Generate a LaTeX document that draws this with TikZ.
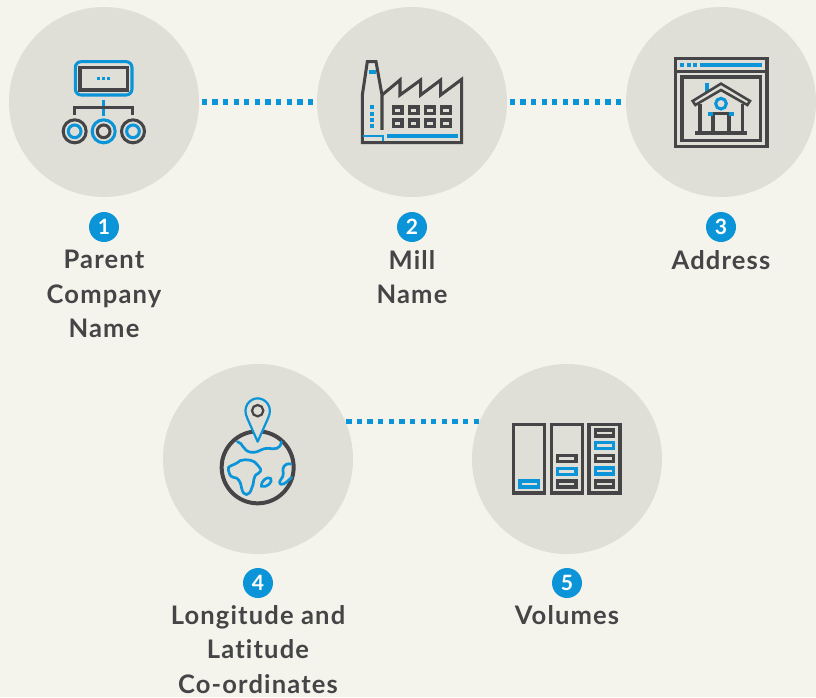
\documentclass[tikz,border=0pt]{standalone}
\usepackage{fontspec}
\setmainfont{Lato}
\newfontfamily\captionfont[LetterSpace=4.5,Ligatures=NoCommon]{Lato}
\definecolor{paper}{HTML}{F5F4EC}
\definecolor{disc}{HTML}{DFDED7}
\definecolor{inkblue}{HTML}{0B95D8}
\definecolor{inkdark}{HTML}{454547}
\tikzset{
  stationdisc/.style={circle,fill=disc,minimum size=5.7cm,inner sep=0pt},
  badge/.style={circle,fill=inkblue,text=white,minimum size=0.9cm,inner sep=0pt,font=\bfseries\fontsize{18}{18}\selectfont},
  caption/.style={text=inkdark,align=center,font=\captionfont\bfseries\fontsize{21.8}{29.4}\selectfont},
  dotlink/.style={inkblue,line width=4.5pt,dash pattern=on 4.53pt off 4.53pt},
  darkline/.style={inkdark,line width=2.6pt,line join=miter},
  blueline/.style={inkblue,line width=2.6pt,line join=miter},
  thinblue/.style={inkblue,line width=2.3pt,line join=round,line cap=round},
}
\begin{document}
\begin{tikzpicture}[x=0.03cm,y=-0.03cm]
    \useasboundingbox[fill=paper] (0,0) rectangle (816,697);

    \node[stationdisc] (parent) at (104,102) {};
    \node[stationdisc] (mill) at (412,102) {};
    \node[stationdisc] (address) at (721,102) {};
    \node[stationdisc] (longitude) at (258,459) {};
    \node[stationdisc] (volumes) at (567,459) {};

    \draw[dotlink,shorten >=2.1pt,shorten <=2.1pt] (parent) -- (mill);
    \draw[dotlink,shorten >=2.1pt,shorten <=2.1pt] (mill) -- (address);
    \draw[dotlink,shorten >=-6.4pt,shorten <=0.5pt] (longitude.23.6) -- (longitude.23.6 -| volumes.west);

    \node[badge] (badgeparent) at (104,227) {1};
    \node[badge] (badgemill) at (412,227) {2};
    \node[badge] (badgeaddress) at (721,227) {3};
    \node[badge] (badgelongitude) at (258,583) {4};
    \node[badge] (badgevolumes) at (567,583) {5};

    \node[caption,anchor=north] (captionparent) at (104,246) {Parent\\Company\\Name};
    \node[caption,anchor=north] (captionmill) at (412,246) {Mill\\Name};
    \node[caption,anchor=north] (captionaddress) at (721,246) {Address};
    \node[caption,anchor=north] (captionlongitude) at (258,601) {Longitude and\\Latitude\\Co-ordinates};
    \node[caption,anchor=north] (captionvolumes) at (567,601) {Volumes};

    % company tree
    \begin{scope}[shift={(40,40)},scale=0.3333]
    \draw[blueline,rounded corners=5pt] (106,65) rectangle (276,165);
    \draw[darkline] (120,82) rectangle (262,150);
    \fill[inkblue] (171,110) rectangle (181,120);
    \fill[inkblue] (186,110) rectangle (196,120);
    \fill[inkblue] (201,110) rectangle (211,120);
    \draw[blueline,line width=3pt] (190,180) -- (190,228);
    \draw[darkline] (103,226) -- (103,203) -- (278,203) -- (278,226);
    \draw[darkline] (104,274) circle (34.5);
    \draw[blueline] (104,274) circle (19);
    \draw[blueline] (191,274) circle (34.5);
    \draw[darkline] (191,274) circle (19);
    \draw[darkline] (279,274) circle (34.5);
    \draw[blueline] (279,274) circle (19);
    \end{scope}

    % factory
    \begin{scope}[shift={(350,50)},scale=0.3333]
    \draw[darkline] (96,240) -- (96,135) -- (78,35) -- (52,35) -- (37,135) -- (37,278) -- (335,278) -- (335,88) -- (272,135) -- (272,90) -- (212,135) -- (212,90) -- (150,135) -- (150,90) -- (96,135);
    \draw[blueline,line width=3.4pt] (56,66) -- (77,66);
    \fill[inkblue] (60,165) rectangle (72,177);
    \fill[inkblue] (60,185) rectangle (72,197);
    \fill[inkblue] (60,204) rectangle (72,216);
    \fill[inkblue] (60,222) rectangle (72,234);
    \draw[blueline,line width=3.4pt] (111,258) -- (325,258);
    \draw[blueline,line width=1.8pt] (40,257) -- (98,257) -- (98,274);
    \draw[darkline] (130,171) rectangle (156,190);
    \draw[darkline] (178,171) rectangle (204,190);
    \draw[darkline] (227,171) rectangle (253,190);
    \draw[darkline] (275,171) rectangle (301,190);
    \draw[darkline] (130,210) rectangle (156,229);
    \draw[darkline] (178,210) rectangle (204,229);
    \draw[darkline] (227,210) rectangle (253,229);
    \draw[darkline] (275,210) rectangle (301,229);
    \end{scope}

    % house in a browser window
    \begin{scope}[shift={(660,50)},scale=0.3333]
    \draw[darkline] (46,26) rectangle (321,289);
    \draw[darkline] (46,65) -- (321,65);
    \draw[darkline] (66,81) rectangle (301,271);
    \fill[inkblue] (59,39) rectangle (72,51);
    \fill[inkblue] (81,39) rectangle (93,51);
    \fill[inkblue] (99,39) rectangle (111,51);
    \fill[inkblue] (120,39) rectangle (306,51);
    \draw[blueline,line width=3.4pt] (141,99) -- (141,126);
    \draw[darkline,line width=2.2pt] (98,153) -- (183,101) -- (270,153) -- (262,165) -- (183,120) -- (106,165) -- cycle;
    \draw[darkline] (120,163) -- (120,245);
    \draw[darkline] (247,163) -- (247,245);
    \draw[darkline] (159,245) -- (159,190) -- (207,190) -- (207,245);
    \draw[darkline,line width=3.4pt] (105,249) -- (261,249);
    \draw[blueline] (183,161) circle (16);
    \fill[inkblue] (144,186) rectangle (160,198);
    \fill[inkblue] (207,186) rectangle (222,198);
    \end{scope}

    % globe with pin
    \begin{scope}[shift={(210,390)},scale=0.3333]
    \draw[darkline,line width=3.4pt] (143,232) circle (108);
    \draw[thinblue] (82,155) .. controls (100,158) and (98,185) .. (125,187) .. controls (150,188) and (150,175) .. (175,175) .. controls (195,178) and (212,178) .. (214,155);
    \draw[thinblue] (55,240) .. controls (50,225) and (70,230) .. (90,212) .. controls (110,205) and (135,212) .. (140,222) .. controls (150,235) and (160,240) .. (145,250) .. controls (125,258) and (135,280) .. (125,295) .. controls (118,320) and (100,320) .. (95,295) .. controls (92,275) and (85,262) .. (70,262) .. controls (60,260) and (57,250) .. (55,240) -- cycle;
    \draw[thinblue] (154,289) .. controls (152,275) and (170,258) .. (182,265) .. controls (190,275) and (170,295) .. (154,289) -- cycle;
    \draw[thinblue] (243,222) .. controls (222,218) and (215,235) .. (220,250) .. controls (222,265) and (200,275) .. (212,283) .. controls (225,285) and (235,270) .. (245,262);
    \draw[thinblue,line width=1.9pt,fill=disc] (143,155) -- (112,85) .. controls (95,50) and (120,25) .. (143,25) .. controls (166,25) and (191,50) .. (174,85) -- cycle;
    \draw[darkline,line width=1.9pt] (143,62) circle (17);
    \end{scope}

    % storage racks
    \begin{scope}[shift={(505,415)},scale=0.3333]
    \draw[darkline] (26,28) rectangle (119,234);
    \draw[darkline] (139,28) rectangle (232,234);
    \draw[darkline] (252,28) rectangle (345,234);
    \draw[blueline] (45,198) rectangle (100,216);
    \draw[darkline] (158,122) rectangle (213,140);
    \draw[blueline] (158,160) rectangle (213,178);
    \draw[darkline] (158,198) rectangle (213,216);
    \draw[darkline] (271,45) rectangle (326,63);
    \draw[blueline] (271,83) rectangle (326,101);
    \draw[darkline] (271,121) rectangle (326,139);
    \draw[blueline] (271,159) rectangle (326,177);
    \draw[darkline] (271,198) rectangle (326,216);
    \end{scope}
\end{tikzpicture}
\end{document}
